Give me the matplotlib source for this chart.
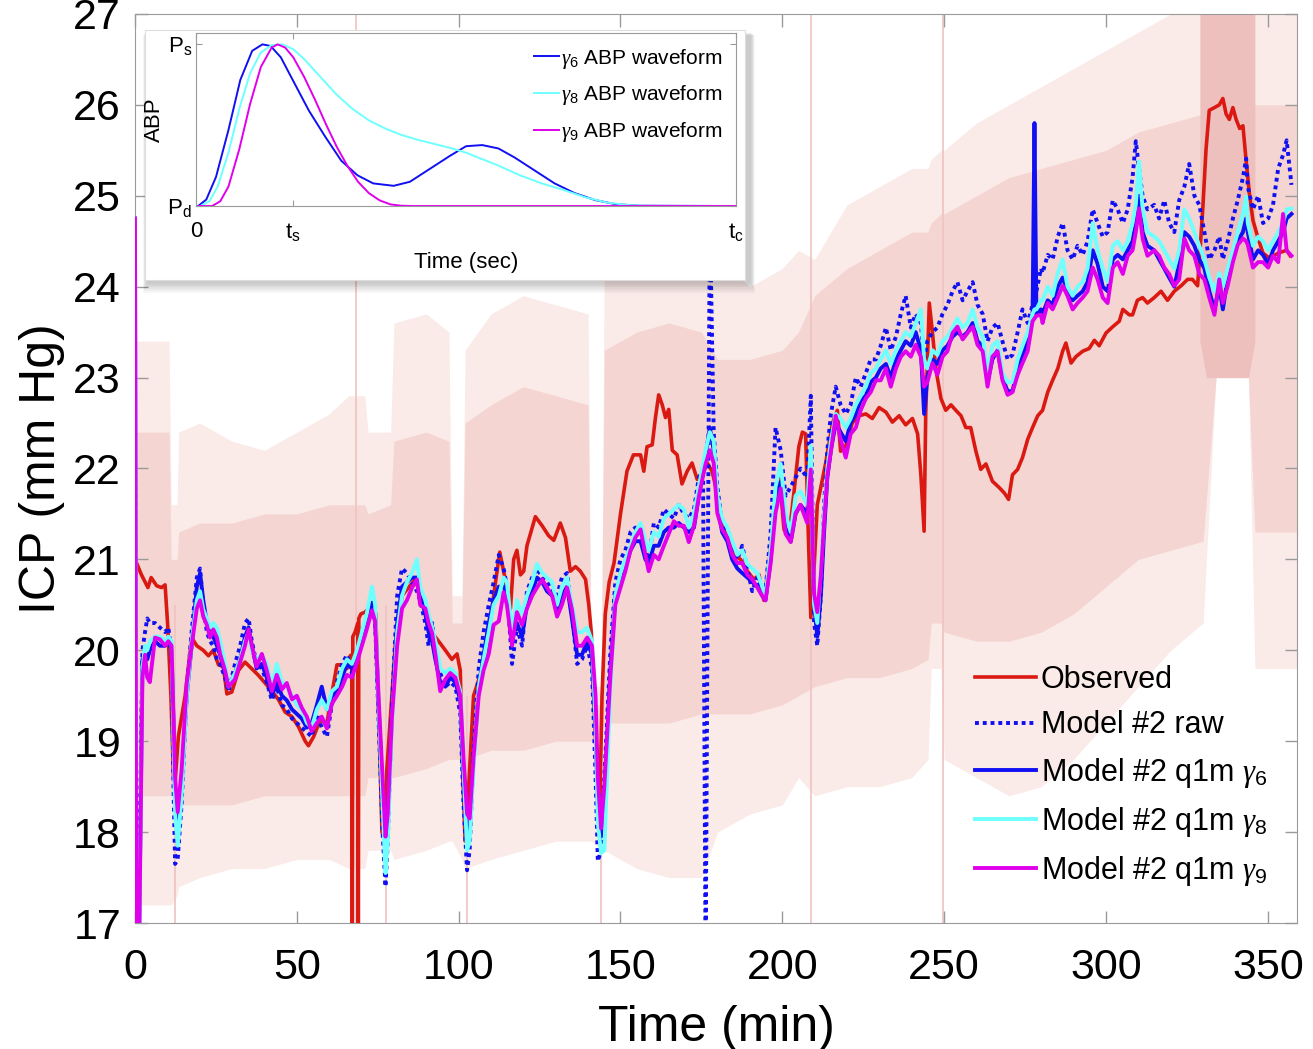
import matplotlib
matplotlib.use('Agg')
import matplotlib.pyplot as plt
from matplotlib.patches import Rectangle

plt.rcParams['font.family'] = ['Liberation Sans', 'DejaVu Sans']
plt.rcParams['mathtext.fontset'] = 'custom'
plt.rcParams['mathtext.rm'] = 'Liberation Sans'
plt.rcParams['mathtext.it'] = 'Liberation Serif:italic'
plt.rcParams['mathtext.bf'] = 'Liberation Sans:bold'

# ---------------- main panel data (time in min, ICP in mm Hg) ----------------
obs_t = [0, 0.5, 2, 4, 5, 6.7, 8.2, 9.3, 10.1, 11.1, 11.9, 12.4, 13.4, 15.5, 17.5, 19.1,
         21.1, 22.7, 24.2, 25.8, 27.3, 28.4, 29.9, 32.0, 34.0, 36.0, 38.0, 40.2, 42.3,
         44.3, 46.4, 48.5, 50.5, 52.6, 53.6, 55.2, 57.2, 59.3, 60.8, 62.4, 64.0, 65.5,
         66.5, 67.0, 67.15, 67.3, 68.0, 68.85, 69.0, 69.15, 69.8, 71.1, 73.2, 74.4, 75.3,
         76.3, 77.0, 77.8, 80.4, 82.5, 84.5, 86.6, 88.7, 91.8, 93.8, 95.9, 97.9, 99.5,
         100.5, 101.3, 102.0, 102.8, 104.6, 106.7, 108.7, 110.8, 112.7, 114.4, 116.0,
         117.0, 118.0, 119.1, 120.1, 121.1, 123.7, 125.8, 127.8, 129.4, 131.4, 133.0,
         134.5, 136.1, 137.6, 139.2, 140.2, 141.0, 141.7, 142.8, 143.5, 144.3, 145.3,
         146.5, 148.0, 150.0, 152.0, 154.0, 156.2, 157.2, 158.2, 159.8, 160.8, 161.8,
         162.9, 163.9, 164.9, 166.0, 167.5, 169.0, 170.6, 172.1, 173.7, 175.2, 176.8,
         178.3, 179.4, 180.9, 183.0, 185.0, 187.1, 189.2, 191.2, 192.8, 194.3, 195.9,
         197.4, 199.0, 200.5, 202.0, 203.6, 205.1, 206.2, 207.2, 208.0, 208.8, 209.8,
         210.8, 213.4, 215.5, 217.0, 218.0, 219.6, 221.6, 223.7, 225.8, 227.8, 229.9,
         232.0, 234.0, 236.1, 238.1, 240.2, 241.8, 242.8, 243.8, 244.3, 245.4, 246.4,
         247.4, 249.0, 250.5, 252.1, 253.6, 255.2, 256.7, 258.2, 259.8, 261.3, 262.9,
         264.9, 267.0, 268.6, 269.9, 271.1, 272.7, 274.2, 275.8, 277.3, 278.9, 280.4,
         282.0, 283.5, 285.1, 286.6, 287.6, 289.2, 290.7, 292.8, 294.8, 296.4, 297.9,
         300.0, 302.1, 304.1, 305.2, 307.2, 308.2, 309.7, 311.3, 312.8, 314.9, 317.0,
         319.0, 321.1, 323.2, 325.2, 326.7, 328.3, 328.8, 329.9, 330.9, 331.9, 333.5,
         335.0, 336.1, 337.1, 338.1, 339.2, 340.2, 341.3, 342.3, 343.3, 344.4, 345.4,
         347.0, 348.5, 350.6, 353.2, 355.8, 356.9]
obs_icp = [21.0, 20.96, 20.83, 20.69, 20.8, 20.71, 20.69, 20.72, 20.28, 19.5, 18.6, 18.55,
           19.05, 19.5, 20.14, 20.05, 20.0, 19.94, 20.0, 19.84, 19.82, 19.52, 19.54, 19.78,
           19.87, 19.8, 19.73, 19.64, 19.55, 19.46, 19.32, 19.27, 19.16, 19.0, 18.95, 19.05,
           19.23, 19.2, 19.52, 19.84, 19.84, 19.8, 19.94, 19.95, 16.5, 20.15, 20.2, 20.3,
           16.5, 20.35, 20.4, 20.42, 20.5, 20.4, 19.3, 18.0, 17.95, 18.68, 20.05, 20.6,
           20.69, 20.78, 20.55, 20.19, 20.1, 20.0, 19.9, 19.96, 19.78, 18.6, 17.9, 18.3,
           19.5, 19.73, 20.0, 20.6, 21.08, 20.78, 20.46, 21.0, 21.1, 20.83, 20.87, 21.15,
           21.47, 21.37, 21.26, 21.21, 21.4, 21.24, 20.87, 20.92, 20.87, 20.78, 20.5, 20.19,
           19.5, 18.59, 18.1, 19.5, 20.4, 20.75, 20.96, 21.5, 21.97, 22.15, 22.15, 21.97,
           22.24, 22.26, 22.56, 22.81, 22.7, 22.56, 22.65, 22.2, 22.15, 21.83, 21.97, 22.06,
           21.88, 21.92, 22.06, 21.97, 21.8, 21.42, 21.24, 21.05, 21.0, 20.87, 20.78, 20.83,
           20.55, 20.96, 21.47, 21.97, 21.33, 21.24, 21.74, 22.24, 22.4, 22.38, 21.3, 20.36,
           20.9, 21.6, 22.06, 22.5, 22.64, 22.19, 22.25, 22.5, 22.58, 22.6, 22.55, 22.67,
           22.62, 22.51, 22.58, 22.48, 22.55, 22.38, 21.93, 21.31, 22.6, 23.82, 23.49, 23.1,
           22.77, 22.64, 22.7, 22.64, 22.58, 22.45, 22.45, 22.19, 21.99, 22.05, 21.86, 21.79,
           21.73, 21.66, 21.93, 21.99, 22.12, 22.32, 22.45, 22.58, 22.64, 22.84, 22.97, 23.1,
           23.29, 23.38, 23.16, 23.23, 23.29, 23.32, 23.41, 23.35, 23.49, 23.56, 23.62, 23.75,
           23.69, 23.69, 23.85, 23.88, 23.82, 23.88, 23.95, 23.85, 23.95, 24.01, 24.08, 24.08,
           24.01, 24.27, 24.86, 25.51, 25.94, 25.97, 26.0, 26.07, 25.9, 25.84, 25.97, 25.84,
           25.74, 25.77, 25.38, 24.99, 24.73, 24.53, 24.37, 24.31, 24.37, 24.4, 24.34]

t_model = [0, 0.4, 1.3, 2.3, 3.1, 3.8, 4.6, 6.2, 7.7, 9.3,
           10.3, 11.3, 11.9, 12.4, 13.2, 14.4, 16.0, 17.5, 19.1, 20.1,
           21.1, 22.2, 23.2, 24.2, 25.3, 26.3, 27.8, 28.9, 30.9, 32.5,
           34.0, 35.1, 36.1, 37.6, 39.2, 40.7, 42.3, 43.8, 45.4, 46.9,
           48.5, 50.0, 51.5, 53.1, 54.6, 56.2, 57.7, 59.3, 60.8, 62.4,
           64.0, 65.5, 67.0, 68.6, 70.1, 71.6, 73.2, 74.2, 75.3, 76.5,
           77.4, 78.1, 79.4, 81.0, 82.5, 84.0, 85.6, 87.1, 88.1, 89.7,
           90.7, 91.8, 92.8, 94.3, 95.9, 97.4, 99.0, 100.5, 101.5, 102.6,
           103.4, 104.6, 106.2, 107.7, 109.3, 110.8, 112.4, 113.9, 114.9, 116.5,
           118.0, 119.6, 121.1, 122.7, 124.2, 125.8, 127.3, 128.9, 130.4, 131.9,
           133.5, 135.0, 136.6, 138.1, 139.7, 141.2, 142.3, 143.0, 144.0, 145.0,
           146.9, 148.4, 150.0, 151.5, 153.1, 154.6, 156.2, 157.7, 158.7, 160.3,
           161.8, 163.4, 164.9, 166.5, 168.0, 169.6, 171.1, 172.7, 174.2, 175.5,
           176.3, 177.6, 178.8, 179.9, 181.4, 183.0, 184.5, 186.1, 187.6, 189.2,
           190.7, 192.3, 193.8, 194.8, 196.4, 197.9, 199.5, 201.0, 202.6, 204.1,
           205.6, 207.7, 208.8, 209.8, 210.8, 211.9, 212.9, 213.9, 215.0, 216.5,
           218.0, 219.6, 221.1, 222.7, 224.2, 225.8, 227.3, 228.9, 230.4, 232.0,
           233.5, 235.1, 236.6, 238.1, 239.7, 241.2, 242.8, 243.8, 244.8, 246.4,
           247.9, 249.5, 251.0, 252.6, 254.1, 255.7, 257.2, 258.8, 260.3, 261.9,
           263.4, 264.9, 266.5, 268.0, 269.6, 271.1, 272.7, 274.2, 275.8, 277.3,
           277.9, 278.5, 279.9, 280.4, 282.0, 283.5, 285.1, 286.6, 288.1, 289.7,
           291.2, 292.8, 294.3, 295.9, 297.4, 299.0, 300.5, 302.1, 303.6, 305.2,
           306.7, 308.2, 309.2, 310.2, 311.3, 312.8, 314.9, 316.4, 318.0, 319.5,
           321.1, 322.6, 324.2, 325.7, 327.3, 328.8, 330.4, 331.9, 333.5, 335.0,
           336.1, 337.6, 339.2, 340.7, 342.3, 343.3, 343.8, 345.4, 347.0, 348.5,
           350.1, 351.6, 353.2, 354.7, 355.8, 357.3]

icp_raw = [23.0, 16.8, 17.5, 20.0, 20.2, 20.35, 20.3, 20.3, 20.25, 20.2,
           20.25, 20.0, 18.5, 17.65, 17.7, 18.3, 19.55, 20.2, 20.8, 20.9,
           20.5, 20.2, 20.1, 20.05, 19.9, 19.85, 19.7, 19.55, 19.85, 20.05,
           20.3, 20.35, 20.1, 19.85, 19.8, 19.65, 19.45, 19.6, 19.4, 19.35,
           19.25, 19.2, 19.15, 19.1, 19.05, 19.3, 19.15, 19.05, 19.4, 19.65,
           19.85, 19.95, 19.75, 19.9, 20.2, 20.35, 20.55, 20.3, 19.2, 18.0,
           17.4, 17.9, 19.4, 20.6, 20.9, 20.85, 20.75, 20.65, 20.55, 20.3,
           20.05, 20.3, 20.0, 19.75, 19.6, 19.65, 19.6, 19.3, 18.3, 17.58,
           17.8, 18.9, 19.8, 20.2, 20.5, 20.75, 21.05, 20.9, 20.7, 19.85,
           20.25, 20.05, 20.65, 20.8, 20.9, 20.8, 20.75, 20.65, 20.6, 20.8,
           20.85, 20.4, 19.85, 19.9, 20.05, 19.8, 18.6, 17.68, 17.8, 18.6,
           20.0, 20.75, 21.0, 21.1, 21.3, 21.35, 21.3, 21.1, 21.0, 21.4,
           21.35, 21.55, 21.5, 21.45, 21.6, 21.5, 21.45, 21.55, 21.9, 22.0,
           16.5, 24.8, 22.4, 21.8, 21.4, 21.2, 21.1, 21.0, 21.15, 20.9,
           20.65, 20.8, 20.6, 20.65, 21.3, 22.45, 22.2, 21.7, 21.8, 21.9,
           22.0, 21.9, 22.8, 20.3, 20.05, 20.6, 21.6, 22.2, 22.6, 22.9,
           22.7, 22.6, 22.7, 23.0, 22.9, 23.05, 23.2, 23.2, 23.35, 23.55,
           23.3, 23.45, 23.7, 23.9, 23.55, 23.7, 23.6, 23.2, 23.4, 23.5,
           23.55, 23.7, 23.8, 23.95, 24.05, 23.85, 23.95, 24.05, 23.8, 23.7,
           23.4, 23.55, 23.6, 23.4, 23.2, 23.25, 23.5, 23.75, 23.6, 23.8,
           24.1, 23.95, 24.2, 24.15, 24.35, 24.3, 24.55, 24.7, 24.4, 24.3,
           24.45, 24.35, 24.5, 24.85, 24.7, 24.55, 24.6, 24.95, 24.85, 24.7,
           24.85, 25.2, 25.6, 25.3, 25.0, 24.85, 24.9, 24.75, 24.95, 24.7,
           24.6, 24.95, 25.1, 25.35, 25.0, 24.9, 24.6, 24.3, 24.4, 24.55,
           24.3, 24.5, 24.75, 24.95, 25.2, 25.41, 25.1, 24.85, 25.0, 24.7,
           24.75, 24.9, 25.3, 25.45, 25.61, 25.12]

icp_g6 = [24.75, 16.8, 16.9, 19.9, 19.95, 19.9, 20.0, 20.1, 20.05, 20.05,
          20.1, 20.0, 19.2, 18.4, 18.1, 18.5, 19.5, 20.05, 20.7, 20.85,
          20.55, 20.3, 20.2, 20.15, 20.05, 19.95, 19.75, 19.6, 19.75, 19.9,
          20.15, 20.25, 20.05, 19.8, 19.85, 19.7, 19.5, 19.65, 19.5, 19.45,
          19.35, 19.3, 19.25, 19.15, 19.2, 19.4, 19.6, 19.35, 19.5, 19.55,
          19.7, 19.85, 19.8, 19.95, 20.15, 20.35, 20.5, 20.35, 19.35, 18.4,
          17.8, 18.1, 19.3, 20.3, 20.7, 20.75, 20.8, 20.8, 20.6, 20.4,
          20.2, 20.1, 19.9, 19.65, 19.6, 19.7, 19.65, 19.45, 18.6, 17.9,
          18.0, 18.8, 19.6, 19.95, 20.3, 20.55, 20.7, 20.7, 20.6, 20.15,
          20.3, 20.15, 20.5, 20.65, 20.8, 20.75, 20.65, 20.6, 20.45, 20.6,
          20.7, 20.35, 19.95, 19.95, 20.1, 19.95, 19.2, 18.3, 17.95, 18.4,
          19.8, 20.6, 20.8, 20.95, 21.1, 21.2, 21.2, 21.0, 20.95, 21.15,
          21.15, 21.3, 21.35, 21.35, 21.4, 21.35, 21.3, 21.35, 21.7, 21.95,
          22.15, 22.45, 22.2, 21.6, 21.3, 21.2, 21.0, 20.9, 20.85, 20.8,
          20.75, 20.7, 20.6, 20.55, 21.0, 21.7, 21.85, 21.35, 21.2, 21.5,
          21.6, 21.5, 22.05, 20.5, 20.15, 20.6, 21.3, 21.9, 22.2, 22.5,
          22.4, 22.3, 22.5, 22.6, 22.75, 22.8, 22.95, 23.0, 23.1, 23.15,
          23.0, 23.2, 23.3, 23.4, 23.35, 23.5, 23.3, 22.6, 23.0, 23.2,
          23.15, 23.3, 23.35, 23.45, 23.5, 23.45, 23.5, 23.6, 23.4, 23.35,
          22.95, 23.2, 23.3, 23.0, 22.85, 22.85, 23.1, 23.25, 23.4, 23.65,
          25.8, 23.7, 23.75, 23.7, 23.85, 23.8, 24.0, 24.1, 23.95, 23.85,
          23.9, 23.95, 24.05, 24.4, 24.25, 24.0, 23.95, 24.3, 24.35, 24.3,
          24.4, 24.5, 24.7, 25.0, 24.6, 24.45, 24.4, 24.3, 24.2, 24.1,
          24.0, 24.25, 24.6, 24.55, 24.45, 24.3, 24.2, 23.95, 23.75, 24.0,
          23.75, 24.1, 24.3, 24.5, 24.6, 24.75, 24.6, 24.3, 24.4, 24.35,
          24.25, 24.4, 24.5, 24.6, 24.75, 24.8]

icp_g8 = [24.75, 16.8, 16.8, 19.8, 20.05, 20.0, 20.1, 20.15, 20.15, 20.1,
          20.15, 20.1, 19.0, 18.2, 17.85, 18.4, 19.5, 20.1, 20.55, 20.65,
          20.45, 20.35, 20.25, 20.3, 20.25, 20.1, 19.85, 19.6, 19.75, 19.9,
          20.1, 20.2, 20.0, 19.9, 19.95, 19.85, 19.6, 19.85, 19.65, 19.6,
          19.5, 19.4, 19.35, 19.2, 19.15, 19.35, 19.45, 19.35, 19.55, 19.6,
          19.8, 19.9, 19.85, 20.0, 20.2, 20.4, 20.7, 20.5, 19.4, 18.3,
          17.55, 17.9, 19.2, 20.2, 20.6, 20.75, 20.85, 21.0, 20.7, 20.55,
          20.4, 20.25, 20.1, 19.8, 19.75, 19.8, 19.75, 19.55, 18.7, 17.8,
          17.9, 18.7, 19.6, 19.9, 20.2, 20.5, 20.6, 20.8, 20.75, 20.2,
          20.55, 20.4, 20.6, 20.75, 20.95, 20.85, 20.8, 20.75, 20.5, 20.7,
          20.8, 20.5, 20.2, 20.2, 20.25, 20.1, 19.2, 18.1, 17.77, 17.8,
          19.6, 20.6, 20.85, 21.0, 21.15, 21.3, 21.4, 21.2, 21.1, 21.3,
          21.25, 21.45, 21.5, 21.55, 21.6, 21.55, 21.35, 21.5, 21.8, 22.05,
          22.2, 22.4, 22.3, 21.7, 21.45, 21.35, 21.2, 21.05, 21.1, 20.95,
          20.9, 20.85, 20.7, 20.6, 21.1, 21.8, 22.05, 21.5, 21.3, 21.7,
          21.75, 21.6, 22.25, 20.5, 20.3, 20.9, 21.5, 22.0, 22.3, 22.6,
          22.55, 22.45, 22.55, 22.7, 22.8, 22.9, 23.05, 23.1, 23.2, 23.3,
          23.15, 23.3, 23.4, 23.5, 23.45, 23.6, 23.75, 23.2, 23.1, 23.3,
          23.25, 23.4, 23.45, 23.55, 23.65, 23.55, 23.6, 23.75, 23.55, 23.45,
          23.05, 23.35, 23.4, 23.05, 22.95, 22.95, 23.2, 23.35, 23.5, 23.7,
          23.75, 23.75, 23.85, 23.85, 24.0, 23.9, 24.15, 24.3, 24.0, 23.9,
          24.0, 24.05, 24.2, 24.7, 24.4, 24.2, 24.05, 24.45, 24.5, 24.4,
          24.5, 24.7, 24.9, 25.38, 24.85, 24.6, 24.55, 24.5, 24.4, 24.3,
          24.2, 24.4, 24.85, 24.75, 24.6, 24.45, 24.3, 24.1, 23.95, 24.15,
          24.0, 24.2, 24.4, 24.6, 24.8, 24.99, 24.7, 24.45, 24.55, 24.5,
          24.4, 24.5, 24.6, 24.7, 24.85, 24.86]

icp_g9 = [24.75, 16.8, 16.8, 19.7, 19.95, 19.7, 19.65, 20.14, 20.12, 20.05,
          20.1, 20.05, 19.27, 18.6, 18.22, 18.68, 19.64, 20.05, 20.46, 20.55,
          20.37, 20.28, 20.14, 20.23, 20.14, 19.96, 19.78, 19.6, 19.68, 19.87,
          20.05, 20.23, 20.05, 19.82, 19.96, 19.78, 19.55, 19.73, 19.57, 19.64,
          19.46, 19.5, 19.37, 19.27, 19.11, 19.2, 19.27, 19.14, 19.41, 19.5,
          19.6, 19.73, 19.7, 19.87, 20.05, 20.23, 20.44, 20.32, 19.46, 18.59,
          17.95, 18.2, 19.27, 20.05, 20.46, 20.55, 20.69, 20.78, 20.5, 20.46,
          20.3, 20.19, 19.96, 19.55, 19.68, 19.75, 19.7, 19.5, 18.82, 18.2,
          18.15, 18.82, 19.5, 19.78, 19.96, 20.28, 20.32, 20.64, 20.5, 20.05,
          20.42, 20.28, 20.46, 20.6, 20.69, 20.78, 20.69, 20.6, 20.37, 20.5,
          20.69, 20.45, 20.05, 20.05, 20.14, 20.05, 19.5, 18.6, 18.04, 18.5,
          19.73, 20.5, 20.69, 20.87, 21.1, 21.24, 21.33, 21.05, 20.87, 21.05,
          21.0, 21.15, 21.28, 21.42, 21.37, 21.37, 21.19, 21.37, 21.69, 21.92,
          22.05, 22.2, 22.06, 21.51, 21.33, 21.24, 21.05, 20.96, 20.96, 20.83,
          20.78, 20.69, 20.6, 20.55, 20.96, 21.51, 21.78, 21.28, 21.19, 21.51,
          21.6, 21.4, 21.99, 20.62, 20.42, 20.82, 21.4, 21.92, 22.19, 22.58,
          22.32, 22.12, 22.38, 22.45, 22.64, 22.77, 22.84, 22.97, 22.97, 23.1,
          22.9, 23.1, 23.23, 23.29, 23.23, 23.36, 23.23, 22.9, 22.95, 23.16,
          23.03, 23.23, 23.29, 23.49, 23.56, 23.42, 23.49, 23.56, 23.36, 23.29,
          22.9, 23.23, 23.29, 22.97, 22.81, 22.84, 23.03, 23.16, 23.29, 23.62,
          23.65, 23.68, 23.69, 23.6, 23.82, 23.75, 23.88, 24.01, 23.9, 23.75,
          23.82, 23.88, 23.95, 24.21, 24.08, 23.88, 23.82, 24.21, 24.27, 24.14,
          24.34, 24.4, 24.6, 24.86, 24.53, 24.34, 24.4, 24.34, 24.21, 24.14,
          24.01, 24.08, 24.53, 24.4, 24.34, 24.14, 24.08, 23.88, 23.69, 24.08,
          23.82, 24.01, 24.27, 24.46, 24.53, 24.5, 24.46, 24.21, 24.27, 24.27,
          24.21, 24.34, 24.27, 24.8, 24.4, 24.34]

# envelope of the raw (beat-to-beat) observed ICP trace
band_t = [0, 10.5, 11.2, 13.0, 13.5, 20, 30, 40, 50, 60, 66, 71, 72, 79, 80, 90, 97, 98,
          101, 102, 110, 120, 130, 140, 141, 144, 145, 155, 165, 175, 180, 190, 200, 205,
          210, 220, 230, 240, 245, 246, 249, 250, 260, 270, 280, 290, 300, 310, 320, 330,
          334, 344, 346, 359]
band_hi = [23.4, 23.4, 21.6, 21.6, 22.4, 22.5, 22.3, 22.2, 22.4, 22.6, 22.8, 22.8, 22.4,
           22.4, 23.6, 23.7, 23.5, 20.6, 20.6, 23.3, 23.7, 23.9, 23.8, 23.7, 19.6, 19.6,
           24.3, 24.6, 24.7, 24.6, 24.3, 24.0, 24.2, 24.4, 24.3, 24.9, 25.1, 25.3, 25.3,
           25.4, 25.5, 25.5, 25.8, 26.0, 26.2, 26.4, 26.6, 26.8, 27.0, 27.0, 27.0, 27.0,
           27.0, 27.0]
band_lo = [17.2, 17.2, 17.2, 17.3, 17.4, 17.5, 17.6, 17.6, 17.7, 17.7, 17.6, 17.6, 17.8,
           17.8, 17.7, 17.8, 17.9, 17.9, 17.7, 17.6, 17.7, 17.8, 17.9, 17.9, 17.9, 17.8,
           17.8, 17.6, 17.5, 17.5, 18.0, 18.2, 18.3, 18.6, 18.4, 18.5, 18.5, 18.6, 18.8,
           19.8, 19.8, 18.8, 18.6, 18.4, 18.5, 18.8, 19.2, 19.6, 20.0, 20.3, 23.0, 23.0,
           19.8, 19.8]
core_hi = [22.4, 22.4, 21.0, 21.0, 21.3, 21.4, 21.4, 21.5, 21.5, 21.6, 21.6, 21.6, 21.5,
           21.6, 22.3, 22.4, 22.3, 20.3, 20.3, 22.5, 22.7, 22.9, 22.8, 22.7, 19.4, 19.4,
           23.3, 23.5, 23.6, 23.5, 23.2, 23.2, 23.3, 23.5, 23.9, 24.2, 24.4, 24.6, 24.6,
           24.7, 24.8, 24.8, 25.0, 25.2, 25.3, 25.4, 25.5, 25.7, 25.8, 25.9, 26.0, 26.0,
           26.0, 26.0]
core_lo = [18.4, 18.4, 18.4, 18.3, 18.3, 18.3, 18.3, 18.4, 18.4, 18.4, 18.4, 18.4, 18.6,
           18.6, 18.6, 18.7, 18.8, 18.8, 18.8, 18.8, 18.9, 18.9, 19.0, 19.0, 19.0, 19.1,
           19.2, 19.2, 19.2, 19.3, 19.3, 19.3, 19.4, 19.5, 19.6, 19.7, 19.7, 19.8, 19.9,
           20.3, 20.3, 20.2, 20.1, 20.1, 20.2, 20.4, 20.7, 21.0, 21.1, 21.2, 23.0, 23.0,
           21.3, 21.3]
dark_t = [329, 331, 344, 346]
dark_lo = [23.4, 23.0, 23.0, 23.4]
dark_hi = [27.0, 27.0, 27.0, 27.0]
artifact_t = [12.3, 68.3, 77.6, 102.6, 144.1, 208.8, 249.6]
artifact_lo = [17.0, 17.0, 17.0, 17.0, 17.0, 17.0, 17.0]
artifact_hi = [20.5, 27.0, 20.5, 19.5, 19.5, 27.0, 27.0]

# ---------------- inset data (normalised time / pressure) ----------------
g6_t = [0.004, 0.019, 0.037, 0.06, 0.082, 0.104, 0.123, 0.138, 0.157, 0.179, 0.209, 0.239,
        0.269, 0.299, 0.328, 0.366, 0.396, 0.433, 0.47, 0.5, 0.53, 0.56, 0.59, 0.627, 0.664,
        0.701, 0.739, 0.776, 0.821, 1.0]
g6_p = [0.0, 0.04, 0.18, 0.47, 0.78, 0.96, 1.0, 0.99, 0.92, 0.78, 0.59, 0.43, 0.28, 0.19,
        0.14, 0.125, 0.15, 0.23, 0.31, 0.37, 0.377, 0.356, 0.30, 0.22, 0.14, 0.08, 0.037,
        0.012, 0.002, 0.0]
g8_t = [0.008, 0.025, 0.04, 0.06, 0.08, 0.1, 0.12, 0.14, 0.16, 0.18, 0.2, 0.23, 0.26, 0.29,
        0.32, 0.35, 0.38, 0.41, 0.44, 0.47, 0.5, 0.53, 0.56, 0.6, 0.64, 0.68, 0.72, 0.76,
        0.8, 0.84, 1.0]
g8_p = [0.0, 0.03, 0.12, 0.33, 0.6, 0.82, 0.95, 0.995, 1.0, 0.97, 0.91, 0.8, 0.69, 0.6,
        0.53, 0.48, 0.44, 0.41, 0.385, 0.36, 0.33, 0.29, 0.25, 0.19, 0.14, 0.10, 0.055,
        0.022, 0.006, 0.0, 0.0]
g9_t = [0.005, 0.03, 0.045, 0.06, 0.08, 0.1, 0.12, 0.14, 0.151, 0.165, 0.18, 0.2, 0.22,
        0.24, 0.26, 0.28, 0.3, 0.32, 0.34, 0.36, 0.38, 0.4, 1.0]
g9_p = [0.0, 0.0, 0.03, 0.12, 0.35, 0.63, 0.86, 0.98, 1.0, 0.98, 0.92, 0.8, 0.66, 0.51,
        0.37, 0.25, 0.15, 0.08, 0.035, 0.01, 0.002, 0.0, 0.0]
t_s = 0.18

RED = '#DA1A12'
BLUE = '#1010F2'
CYAN = '#6EFFFF'
MAGENTA = '#E000EC'
SPINE = '#9a9a9a'

fig = plt.figure(figsize=(13.13, 10.49), dpi=100)
ax = fig.add_axes([0.1028, 0.1201, 0.885, 0.8666])

# raw trace shown as a pink envelope
ax.fill_between(band_t, band_lo, band_hi, color='#FAEAE8', lw=0, zorder=1)
ax.fill_between(band_t, core_lo, core_hi, color='#F4D5D2', lw=0, zorder=1.1)
ax.fill_between(dark_t, dark_lo, dark_hi, color='#EEC0BD', lw=0, zorder=1.2)
ax.vlines(artifact_t, artifact_lo, artifact_hi, color='#EFC3C0', lw=1.2, zorder=1.3)

ax.plot(obs_t, obs_icp, color=RED, lw=2.6, label='Observed', zorder=3)
ax.plot(t_model, icp_raw, color=BLUE, lw=2.8, ls=(0, (1, 1)), label='Model #2 raw', zorder=4)
ax.plot(t_model, icp_g6, color=BLUE, lw=2.8, label='Model #2 q1m $\\gamma_6$', zorder=5)
ax.plot(t_model, icp_g8, color=CYAN, lw=2.8, label='Model #2 q1m $\\gamma_8$', zorder=6)
ax.plot(t_model, icp_g9, color=MAGENTA, lw=2.8, label='Model #2 q1m $\\gamma_9$', zorder=7)

ax.set_xlim(0, 359)
ax.set_ylim(17, 27)
ax.set_xticks(range(0, 351, 50))
ax.set_yticks(range(17, 28))
ax.tick_params(direction='in', length=9, width=1, top=True, right=True,
               labelsize=31, color=SPINE)
ax.tick_params(axis='x', pad=18)
ax.tick_params(axis='y', pad=10)
for s in ax.spines.values():
    s.set_color(SPINE)
ax.set_xlabel('Time (min)', fontsize=36, labelpad=12)
ax.set_ylabel('ICP (mm Hg)', fontsize=36, labelpad=6)

ax.legend(loc='lower right', bbox_to_anchor=(0.985, 0.025), frameon=False, fontsize=22,
          handlelength=2.0, handletextpad=0.15, labelspacing=0.5, borderaxespad=0)

# inset with shadow box
box = (0.1104, 0.733, 0.457, 0.238)
for i in range(6):
    d = 0.0015 * (i + 1)
    fig.add_artist(Rectangle((box[0] - d * 0.4 + 0.002, box[1] - d * 1.1 - 0.002),
                             box[2] + d * 0.8 + 0.002, box[3] + d * 0.8,
                             transform=fig.transFigure, color='black', alpha=0.035,
                             lw=0, zorder=2))
fig.add_artist(Rectangle(box[:2], box[2], box[3], transform=fig.transFigure,
                         facecolor='white', edgecolor='#dddddd', lw=0.8, zorder=3))

ins = fig.add_axes([0.1493, 0.8036, 0.4113, 0.1649], zorder=10)
ins.plot(g6_t, g6_p, color=BLUE, lw=1.4, label='$\\gamma_6$ ABP waveform')
ins.plot(g8_t, g8_p, color=CYAN, lw=1.4, label='$\\gamma_8$ ABP waveform')
ins.plot(g9_t, g9_p, color=MAGENTA, lw=1.4, label='$\\gamma_9$ ABP waveform')
ins.set_xlim(0, 1)
ins.set_ylim(0, 1.07)
ins.set_xticks([0, t_s, 1])
ins.set_xticklabels(['0', '$\\mathrm{t_s}$', '$\\mathrm{t_c}$'])
ins.set_yticks([0, 1])
ins.set_yticklabels(['$\\mathrm{P_d}$', '$\\mathrm{P_s}$'])
ins.tick_params(direction='in', length=4, width=0.8, top=True, right=True,
                labelsize=16, color=SPINE)
ins.tick_params(axis='x', pad=11)
ins.tick_params(axis='y', pad=3)
for s in ins.spines.values():
    s.set_color(SPINE)
ins.set_xlabel('Time (sec)', fontsize=16, labelpad=6)
ins.set_ylabel('ABP', fontsize=16, labelpad=2)
ins.legend(loc='upper right', bbox_to_anchor=(0.99, 0.97), frameon=False, fontsize=15,
           handlelength=1.2, handletextpad=0.1, labelspacing=0.62, borderaxespad=0)

fig.savefig('out.png', dpi=100)
